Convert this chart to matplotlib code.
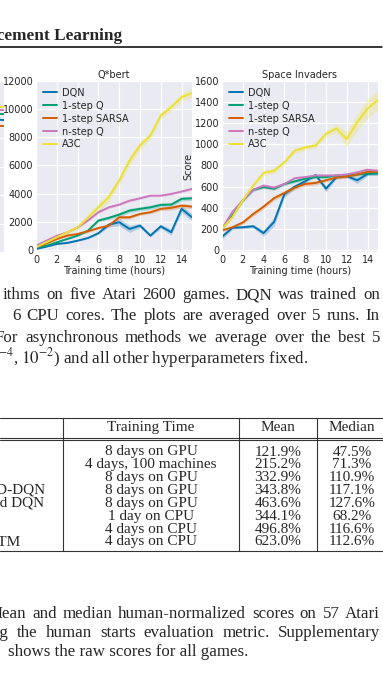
import matplotlib
matplotlib.use("Agg")
import matplotlib.pyplot as plt
import seaborn as sns

# page crop: two learning-speed plots, caption text and a results table
W, H = 383, 680
DPI = 100

hours = list(range(16))
methods = ["DQN", "1-step Q", "1-step SARSA", "n-step Q", "A3C"]
colors = ["#0173B2", "#029E73", "#D55E00", "#CC78BC", "#ECE133"]

# Q*bert scores
qbert_dqn = [70, 240, 430, 500, 660, 850, 1190, 1800, 1970, 1490, 1730, 1020, 1680, 1260, 2920, 2320]
qbert_q1 = [190, 300, 545, 780, 1020, 1370, 2090, 2280, 2510, 2800, 2920, 3030, 3200, 3220, 3630, 3670]
qbert_sarsa = [190, 470, 780, 1020, 1140, 1330, 1560, 1730, 2320, 2320, 2560, 2680, 2920, 2990, 3150, 3080]
qbert_nq = [300, 660, 1000, 1250, 1600, 2100, 2680, 3030, 3220, 3500, 3670, 3860, 3860, 3980, 4150, 4340]
qbert_a3c = [190, 545, 900, 1250, 1600, 2300, 3030, 3750, 4930, 6350, 7420, 8130, 9550, 10140, 10850, 11150]
qbert_spread = [
    [30, 30, 40, 40, 50, 60, 80, 150, 250, 250, 150, 100, 150, 200, 250, 250],
    [30, 30, 40, 50, 60, 80, 100, 120, 150, 150, 150, 150, 150, 150, 150, 150],
    [30, 40, 60, 60, 60, 80, 80, 100, 150, 120, 100, 100, 120, 150, 150, 150],
    [30, 40, 50, 50, 60, 80, 80, 80, 80, 80, 80, 80, 80, 80, 80, 80],
    [50, 60, 80, 100, 150, 250, 300, 300, 300, 350, 300, 250, 250, 250, 250, 300],
]

# Space Invaders scores
si_dqn = [125, 210, 215, 225, 160, 265, 530, 600, 650, 710, 580, 690, 700, 660, 720, 725]
si_q1 = [200, 325, 470, 570, 595, 580, 625, 650, 675, 690, 690, 705, 705, 715, 725, 725]
si_sarsa = [185, 215, 260, 340, 410, 490, 540, 590, 625, 635, 660, 685, 695, 715, 740, 740]
si_nq = [200, 360, 470, 570, 610, 590, 625, 680, 690, 705, 705, 705, 715, 735, 760, 750]
si_a3c = [200, 310, 470, 610, 730, 750, 830, 940, 970, 990, 1100, 1150, 1050, 1210, 1340, 1420]
si_spread = [
    [25, 15, 15, 15, 30, 40, 30, 20, 15, 15, 30, 15, 15, 30, 15, 15],
    [15, 15, 15, 15, 15, 15, 15, 15, 15, 15, 15, 15, 15, 15, 15, 15],
    [10, 15, 15, 20, 20, 20, 20, 20, 20, 20, 15, 15, 15, 15, 15, 15],
    [15, 15, 15, 15, 15, 15, 15, 15, 15, 15, 15, 15, 15, 15, 15, 15],
    [10, 15, 20, 25, 25, 25, 25, 25, 25, 25, 30, 40, 70, 80, 90, 90],
]

# the neighbouring plot on the left, only its last stretch is on the page
pong_hours = [14, 15]
pong_scores = [[16.5, 16.3], [18.5, 18.4], [14.3, 14.2], [19.9, 19.8], [21.0, 20.9]]

# table
tbl_method = ["DQN", "Gorila", "D-DQN", "Dueling D-DQN", "Prioritized DQN", "A3C, FF", "A3C, FF", "A3C, LSTM"]
tbl_time = ["8 days on GPU", "4 days, 100 machines", "8 days on GPU", "8 days on GPU",
            "8 days on GPU", "1 day on CPU", "4 days on CPU", "4 days on CPU"]
tbl_mean = ["121.9%", "215.2%", "332.9%", "343.8%", "463.6%", "344.1%", "496.8%", "623.0%"]
tbl_median = ["47.5%", "71.3%", "110.9%", "117.1%", "127.6%", "68.2%", "116.6%", "112.6%"]
tbl_header = ["Method", "Training Time", "Mean", "Median"]

caption_top = [
    "ithms on five Atari 2600 games. DQN was trained on",
    "6 CPU cores. The plots are averaged over 5 runs. In",
    "For asynchronous methods we average over the best 5",
]
caption_top_last = r"$^{-4}$, $10^{-2}$) and all other hyperparameters fixed."
caption_bottom = [
    "Mean and median human-normalized scores on 57 Atari",
    "using the human starts evaluation metric. Supplementary",
]
caption_bottom_last = "shows the raw scores for all games."

sns.set_style("darkgrid")
plt.rcParams["mathtext.fontset"] = "stix"
serif = ["Liberation Serif", "DejaVu Serif"]
SS = 7.0     # chart text size
CS = 12.2    # caption text size
TS = 11.0    # table text size
INK = "#262626"

fig = plt.figure(figsize=(W / DPI, H / DPI), dpi=DPI)
fig.patch.set_facecolor("white")


def px_axes(left, top, right, bottom):
    return fig.add_axes([left / W, 1 - bottom / H, (right - left) / W, (bottom - top) / H])


def fy(y):
    return 1 - y / H


def plot_game(ax, title, series, spread, ymax, ystep):
    for name, col, vals, sp in zip(methods, colors, series, spread):
        lo = [v - s for v, s in zip(vals, sp)]
        hi = [v + s for v, s in zip(vals, sp)]
        ax.fill_between(hours, lo, hi, color=col, alpha=0.25, lw=0)
        ax.plot(hours, vals, color=col, lw=1.4, label=name)
    ax.set_xlim(0, 15)
    ax.set_ylim(-ymax * 0.012, ymax)
    ax.set_xticks(range(0, 15, 2))
    ax.set_yticks(range(0, ymax + 1, ystep))
    ax.tick_params(labelsize=SS, pad=2, length=0, colors=INK)
    ax.grid(color="white", lw=0.9)
    ax.set_title(title, fontsize=SS, pad=2.5, color=INK)
    ax.set_xlabel("Training time (hours)", fontsize=SS, labelpad=1, color=INK)
    ax.legend(loc="upper left", frameon=False, fontsize=SS, handlelength=1.5,
              handletextpad=0.5, labelspacing=0.3, borderaxespad=0.3)


# partial plot at the left edge
ax0 = px_axes(-152, 81, 4, 252)
for col, vals in zip(colors, pong_scores):
    ax0.plot(pong_hours, vals, color=col, lw=1.4)
ax0.set_xlim(0, 15)
ax0.set_ylim(-30, 30)
ax0.set_xticklabels([])
ax0.set_yticklabels([])
ax0.tick_params(length=0)

ax1 = px_axes(36, 81, 192, 252)
plot_game(ax1, "Q*bert", [qbert_dqn, qbert_q1, qbert_sarsa, qbert_nq, qbert_a3c], qbert_spread, 12000, 2000)

ax2 = px_axes(222, 81, 378, 252)
plot_game(ax2, "Space Invaders", [si_dqn, si_q1, si_sarsa, si_nq, si_a3c], si_spread, 1600, 200)
ax2.set_ylabel("Score", fontsize=SS, labelpad=1, color=INK)

# running header
fig.text(122 / W, fy(40), "Asynchronous Methods for Deep Reinforcement Learning", ha="right",
         va="baseline", fontsize=12.4, fontweight="bold", family=serif)
fig.add_artist(plt.Line2D([0, 382 / W], [fy(47), fy(47)], color="black", lw=1.1))

renderer = fig.canvas.get_renderer()


def justified(line, x0, x1, y):
    words = line.split(" ")
    objs = [fig.text(0, fy(y), w, fontsize=CS, va="baseline", family=serif) for w in words]
    widths = [o.get_window_extent(renderer).width for o in objs]
    gap = (x1 - x0 - sum(widths)) / (len(words) - 1)
    x = x0
    for o, w in zip(objs, widths):
        o.set_x(x / W)
        x += w + gap


top_x0 = [3, 12, -5]
for i, line in enumerate(caption_top):
    justified(line, top_x0[i], 380, 299 + 21.5 * i)
fig.text(-2 / W, fy(299 + 21.5 * 3), caption_top_last, fontsize=CS, va="baseline", family=serif)

bot_x0 = [-12, -28]
for i, line in enumerate(caption_bottom):
    justified(line, bot_x0[i], 380, 618 + 19 * i)
fig.text(8 / W, fy(618 + 19 * 2), caption_bottom_last, fontsize=CS, va="baseline", family=serif)

# table
col_x = [-57, 151, 278, 352]
row_y = [452 + 12.85 * i for i in range(len(tbl_time))]
rule_kw = dict(color="#333333", lw=0.8)
for y in [418, 437.5, 440, 551]:
    fig.add_artist(plt.Line2D([0, 1], [fy(y), fy(y)], **rule_kw))
for x in [63, 239, 317]:
    fig.add_artist(plt.Line2D([x / W, x / W], [fy(418), fy(551)], **rule_kw))

fig.text(col_x[0] / W, fy(427.5), tbl_header[0], ha="left", va="center", fontsize=TS, family=serif)
for j in range(1, 4):
    fig.text(col_x[j] / W, fy(427.5), tbl_header[j], ha="center", va="center", fontsize=TS, family=serif)
for i, y in enumerate(row_y):
    fig.text(col_x[0] / W, fy(y), tbl_method[i], ha="left", va="center", fontsize=TS, family=serif)
    for j, col in enumerate([tbl_time, tbl_mean, tbl_median], start=1):
        fig.text(col_x[j] / W, fy(y), col[i], ha="center", va="center", fontsize=TS, family=serif)

fig.savefig("out.png", dpi=DPI)
